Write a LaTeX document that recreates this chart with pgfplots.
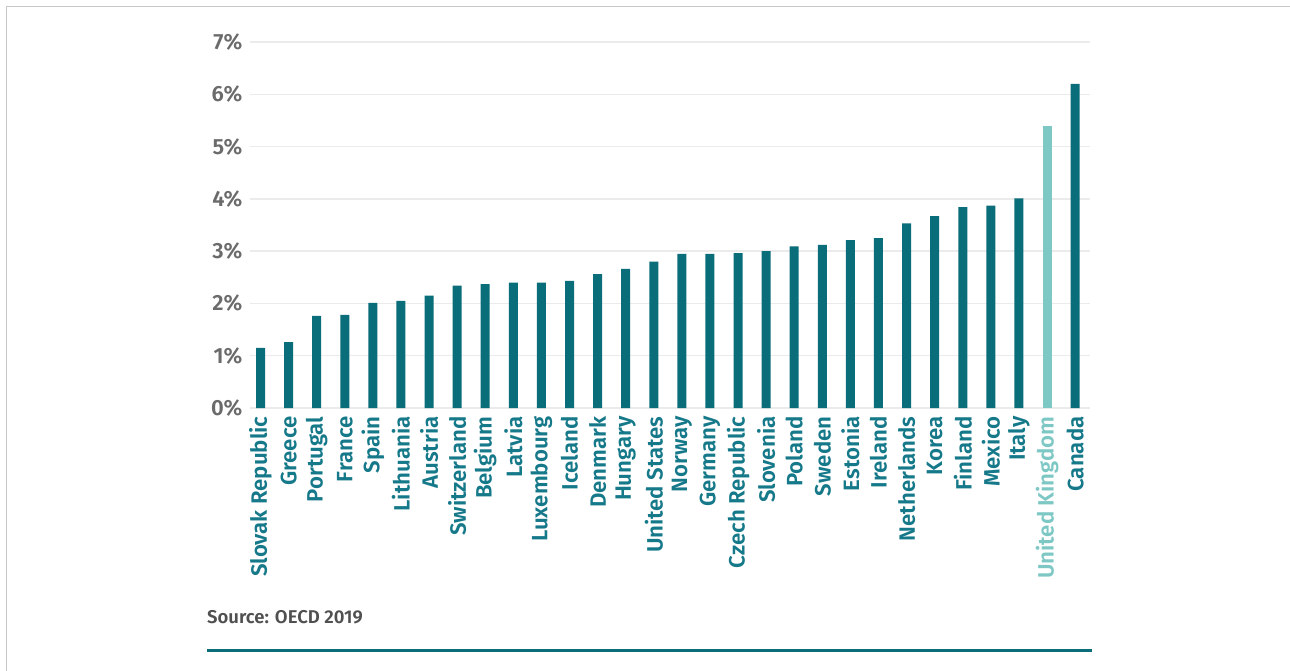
\documentclass[border=0pt]{standalone}
\usepackage{pgfplots}
\pgfplotsset{compat=1.18}
\usepackage{fontspec}
\setmainfont{Fira Sans}
\newfontfamily\semib{Fira Sans SemiBold}
\definecolor{barteal}{HTML}{0A6E7A}
\definecolor{ukteal}{HTML}{7DC8C4}
\definecolor{labteal}{HTML}{16798A}
\definecolor{ticgray}{HTML}{6B6B6B}
\definecolor{srcgray}{HTML}{505050}
\definecolor{gridgray}{HTML}{EBEBEB}
\definecolor{bordergray}{HTML}{C8C8C8}
\begin{document}
\begin{tikzpicture}
\path[use as bounding box, fill=white] (0pt,0pt) rectangle (1290pt,-671pt);
\draw[bordergray, line width=1.5pt] (6.5pt,-671pt) -- (6.5pt,-6.5pt) -- (1290pt,-6.5pt);
\begin{axis}[
  at={(250pt,-408pt)}, anchor=south west,
  scale only axis, width=840pt, height=366pt,
  xmin=-0.374, xmax=29.53, ymin=0, ymax=7,
  axis line style={draw=none},
  major tick length=0pt,
  ymajorgrids, grid style={gridgray, line width=1.5pt},
  ytick={0,1,2,3,4,5,6,7},
  yticklabels={0\%,1\%,2\%,3\%,4\%,5\%,6\%,7\%},
  yticklabel style={font=\semib\fontsize{22}{22}\selectfont, color=ticgray, anchor=east, xshift=-4pt},
  xtick={0,...,29},
  xticklabels={Slovak Republic,Greece,Portugal,France,Spain,Lithuania,Austria,Switzerland,Belgium,Latvia,Luxembourg,Iceland,Denmark,Hungary,United States,Norway,Germany,Czech Republic,Slovenia,Poland,Sweden,Estonia,Ireland,Netherlands,Korea,Finland,Mexico,Italy,{\color{ukteal}United Kingdom},Canada},
  xticklabel style={font=\semib\fontsize{22.2}{22.2}\selectfont, color=labteal, rotate=90, anchor=east},
  xticklabel shift=5pt,
  /pgf/number format/assume math mode=true,
  clip=false,
]
\addplot[ybar, bar width=9pt, bar shift=0pt, fill=barteal, draw=none] coordinates {
(0,1.15) (1,1.26) (2,1.76) (3,1.78) (4,2.01) (5,2.05) (6,2.15) (7,2.34) (8,2.37) (9,2.40)
(10,2.40) (11,2.43) (12,2.56) (13,2.66) (14,2.80) (15,2.95) (16,2.95) (17,2.96) (18,3.00) (19,3.09)
(20,3.12) (21,3.21) (22,3.25) (23,3.53) (24,3.67) (25,3.84) (26,3.87) (27,4.01) (29,6.20)
};
\addplot[ybar, bar width=9pt, bar shift=0pt, fill=ukteal, draw=none] coordinates {
(28,5.39)
};
\end{axis}
\node[anchor=base west, font=\semib\fontsize{18.5}{18.5}\selectfont, text=srcgray, inner sep=0pt] at (207pt,-623pt) {Source: OECD 2019};
\draw[barteal, line width=3pt] (207pt,-650pt) -- (1092pt,-650pt);
\end{tikzpicture}
\end{document}
